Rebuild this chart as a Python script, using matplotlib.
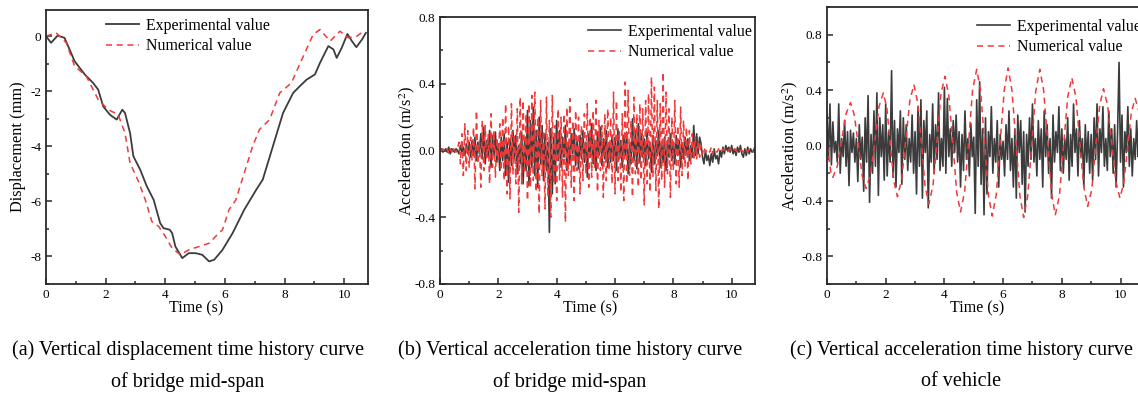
import numpy as np
import matplotlib.pyplot as plt
from matplotlib.ticker import MultipleLocator, FormatStrFormatter

plt.rcParams['font.family'] = ['Liberation Serif', 'DejaVu Serif']
plt.rcParams['axes.unicode_minus'] = False
plt.rcParams['mathtext.fontset'] = 'stix'

# (a) bridge mid-span displacement
disp_exp_t = [0.00, 0.17, 0.39, 0.62, 0.79, 0.96, 1.30, 1.58, 1.75, 1.92, 2.14, 2.37, 2.56, 2.65,
              2.82, 2.93, 3.16, 3.38, 3.61, 3.83, 3.94, 4.15, 4.23, 4.34, 4.57, 4.79, 5.02, 5.24,
              5.47, 5.64, 5.92, 6.26, 6.65, 7.05, 7.27, 7.61, 7.95, 8.29, 8.51, 8.74, 9.02, 9.19,
              9.47, 9.64, 9.75, 9.92, 10.11, 10.26, 10.41, 10.60, 10.73]
disp_exp = [0.00, -0.24, 0.02, -0.06, -0.48, -0.91, -1.39, -1.70, -1.94, -2.55, -2.85, -3.03, -2.67, -2.79,
            -3.52, -4.36, -4.85, -5.45, -5.94, -6.79, -6.97, -7.03, -7.15, -7.64, -8.06, -7.88, -7.88, -7.94,
            -8.18, -8.12, -7.76, -7.15, -6.30, -5.58, -5.21, -4.00, -2.79, -2.06, -1.82, -1.58, -1.39, -0.97,
            -0.36, -0.48, -0.79, -0.42, 0.08, -0.18, -0.40, -0.12, 0.12]
disp_num_t = [0.00, 0.34, 0.68, 0.96, 1.35, 1.75, 2.09, 2.42, 2.65, 2.82, 3.10, 3.33, 3.55, 3.78,
              4.00, 4.23, 4.51, 4.79, 5.13, 5.47, 5.69, 5.92, 6.14, 6.37, 6.65, 6.93, 7.16, 7.50,
              7.84, 8.23, 8.63, 8.96, 9.19, 9.53, 9.86, 10.14, 10.43, 10.65]
disp_num = [0.00, 0.12, -0.24, -1.09, -1.45, -2.30, -2.67, -2.85, -3.52, -4.61, -5.27, -5.94, -6.73, -6.91,
            -7.27, -7.70, -7.94, -7.76, -7.64, -7.52, -7.27, -7.03, -6.30, -5.94, -4.97, -4.00, -3.39, -3.03,
            -2.06, -1.70, -0.73, 0.06, 0.24, -0.18, 0.18, -0.06, 0.00, 0.18]

# (b) bridge mid-span acceleration, sampled every 0.05 s
bridge_dt = 0.05
bridge_exp = [
    0.00, 0.01, -0.01, 0.00, 0.01, -0.01, 0.02, -0.02, 0.01, 0.00, -0.01, 0.01, 0.00, -0.02, 0.03, -0.01, 0.02, -0.03, 0.04, -0.02,
    0.05, -0.04, 0.06, -0.03, 0.08, -0.06, 0.05, -0.02, 0.10, -0.05, 0.14, -0.08, 0.06, -0.04, 0.12, -0.10, 0.09, -0.03, 0.11, -0.07,
    0.04, -0.12, 0.08, -0.06, 0.10, -0.15, 0.05, -0.19, 0.07, -0.09, 0.12, -0.05, 0.09, -0.14, 0.03, -0.08, 0.11, -0.20, 0.06, -0.12,
    0.24, -0.21, 0.18, -0.10, 0.26, -0.15, 0.12, -0.22, 0.20, -0.08, 0.15, -0.18, 0.10, -0.12, 0.05, -0.49, 0.13, -0.26, 0.08, -0.20,
    0.18, -0.06, 0.12, -0.10, 0.08, -0.04, 0.15, -0.12, 0.05, -0.08, 0.10, -0.02, 0.13, -0.09, 0.06, -0.11, 0.09, -0.05, 0.12, -0.07,
    0.05, -0.16, 0.10, -0.04, 0.16, -0.08, 0.06, -0.12, 0.11, -0.03, 0.14, -0.09, 0.07, -0.05, 0.12, -0.10, 0.04, -0.07, 0.09, -0.06,
    0.08, -0.12, 0.13, -0.05, 0.06, -0.10, 0.09, -0.03, 0.11, -0.14, 0.05, -0.08, 0.19, -0.06, 0.12, -0.11, 0.16, -0.07, 0.10, -0.04,
    0.07, -0.09, 0.11, -0.05, 0.04, -0.13, 0.09, -0.08, 0.06, -0.03, 0.12, -0.10, 0.05, -0.07, 0.08, -0.12, 0.06, -0.04, 0.10, -0.06,
    0.05, -0.08, 0.09, -0.03, 0.06, -0.10, 0.04, -0.05, 0.08, -0.02, 0.07, -0.06, 0.03, -0.04, 0.15, -0.03, 0.10, -0.02, 0.08, 0.04,
    -0.04, -0.08, 0.00, -0.06, -0.03, -0.09, -0.02, -0.07, 0.01, -0.05, -0.03, -0.08, 0.00, -0.04, 0.02, -0.02, 0.03, 0.00, 0.02, -0.01,
    0.03, -0.02, 0.01, -0.03, 0.02, -0.01, 0.03, -0.02, -0.04, 0.01, -0.03, 0.02, -0.02, 0.01, -0.01, 0.00, 0.02]
bridge_num = [
    0.00, 0.00, 0.01, -0.01, 0.00, 0.01, -0.02, 0.01, -0.01, 0.02, 0.00, -0.01, 0.01, 0.05, -0.08, 0.10, -0.15, 0.16, -0.12, 0.12,
    -0.10, 0.08, -0.06, 0.14, -0.23, 0.24, -0.08, 0.06, -0.22, 0.18, -0.12, 0.15, -0.05, 0.10, -0.20, 0.22, -0.10, 0.12, -0.16, 0.08,
    -0.06, 0.16, -0.12, 0.20, -0.18, 0.28, -0.26, 0.15, -0.29, 0.28, -0.14, 0.10, -0.20, 0.25, -0.37, 0.32, -0.20, 0.30, -0.12, 0.22,
    -0.30, 0.28, -0.22, 0.33, -0.18, 0.35, -0.25, 0.20, -0.38, 0.30, -0.15, 0.12, -0.35, 0.32, -0.28, 0.18, -0.40, 0.33, -0.20, 0.15,
    -0.30, 0.25, -0.18, 0.20, -0.28, 0.22, -0.43, 0.26, -0.15, 0.31, -0.22, 0.18, -0.30, 0.24, -0.12, 0.20, -0.26, 0.15, -0.18, 0.22,
    -0.14, 0.28, -0.22, 0.20, -0.16, 0.24, -0.10, 0.30, -0.25, 0.18, -0.12, 0.15, -0.28, 0.22, -0.18, 0.25, -0.12, 0.20, -0.20, 0.35,
    -0.26, 0.30, -0.18, 0.12, -0.25, 0.22, -0.30, 0.41, -0.20, 0.36, -0.15, 0.18, -0.28, 0.32, -0.14, 0.22, -0.22, 0.28, -0.18, 0.25,
    -0.33, 0.30, -0.20, 0.34, -0.25, 0.44, -0.16, 0.38, -0.24, 0.30, -0.35, 0.28, -0.18, 0.47, -0.22, 0.35, -0.14, 0.25, -0.28, 0.20,
    -0.12, 0.30, -0.20, 0.15, -0.22, 0.26, -0.15, 0.18, -0.10, 0.14, -0.18, 0.12, -0.08, 0.10, -0.06, 0.08, -0.05, 0.06, -0.04, 0.03,
    -0.02, 0.02, -0.01, 0.01, 0.00, -0.01, 0.02, -0.02, 0.01, 0.00, -0.01, 0.01, 0.00, -0.01, 0.01, 0.00, 0.01, -0.01, 0.00, 0.01,
    0.00, -0.01, 0.01, 0.00, -0.01, 0.01, 0.00, 0.00, -0.01, 0.01, 0.00, -0.01, 0.01, 0.00, 0.00, -0.01, 0.00]

# (c) vehicle acceleration
veh_dt = 0.05
veh_exp = [
    0.22, -0.10, 0.30, -0.14, 0.17, -0.05, 0.03, -0.12, 0.30, -0.20, 0.05, -0.08, 0.18, -0.15, 0.10, -0.29, 0.11, -0.05, 0.09, -0.12,
    0.05, -0.26, 0.15, -0.10, 0.06, -0.33, 0.20, -0.12, 0.36, -0.41, 0.08, -0.20, 0.25, -0.15, 0.38, -0.36, 0.20, -0.08, 0.15, -0.25,
    0.30, -0.22, 0.10, -0.12, 0.54, -0.23, 0.18, -0.30, 0.12, -0.05, 0.25, -0.28, 0.20, -0.10, 0.15, -0.18, 0.05, -0.12, 0.22, -0.20,
    0.10, -0.35, 0.28, -0.15, 0.33, -0.38, 0.18, -0.05, 0.25, -0.45, 0.08, -0.12, 0.30, -0.20, 0.15, -0.10, 0.38, -0.18, 0.05, -0.15,
    0.42, -0.20, 0.34, -0.08, 0.12, -0.15, 0.18, -0.05, 0.22, -0.12, 0.10, -0.30, 0.08, -0.18, 0.25, -0.10, 0.05, -0.22, 0.16, -0.08,
    0.06, -0.49, 0.33, -0.15, 0.46, -0.28, 0.12, -0.50, 0.20, -0.35, 0.10, -0.08, 0.28, -0.20, 0.05, -0.12, 0.18, -0.30, 0.08, -0.10,
    0.03, -0.22, 0.15, -0.10, 0.25, -0.18, 0.05, -0.30, 0.12, -0.38, 0.22, -0.05, 0.18, -0.28, 0.10, -0.48, 0.08, -0.15, 0.20, -0.10,
    0.30, -0.12, 0.05, -0.22, 0.18, -0.10, 0.12, -0.30, 0.25, -0.08, 0.15, -0.20, 0.05, -0.38, 0.22, -0.12, 0.10, -0.05, 0.28, -0.18,
    0.12, -0.20, 0.05, -0.10, 0.20, -0.25, 0.08, -0.15, 0.30, -0.05, 0.12, -0.22, 0.18, -0.08, 0.05, -0.30, 0.15, -0.12, 0.10, -0.20,
    0.08, -0.25, 0.20, -0.10, 0.30, -0.22, 0.12, -0.05, 0.28, -0.15, 0.05, -0.18, 0.25, -0.08, 0.12, -0.20, 0.15, -0.30, 0.10, 0.60,
    -0.12, 0.22, -0.30, 0.10, -0.05, 0.28, -0.15, 0.12, -0.22, 0.05, -0.10, 0.18, -0.08, 0.15, -0.12, 0.05, -0.10]
veh_num_t = [0.00, 0.07, 0.13, 0.20, 0.35, 0.50, 0.65, 0.80, 0.93, 1.07, 1.20, 1.33, 1.48, 1.63, 1.77, 1.92,
             2.04, 2.16, 2.28, 2.40, 2.54, 2.68, 2.82, 2.96, 3.09, 3.22, 3.34, 3.47, 3.61, 3.75, 3.88, 4.02,
             4.15, 4.29, 4.42, 4.55, 4.69, 4.83, 4.96, 5.10, 5.23, 5.37, 5.50, 5.63, 5.77, 5.90, 6.04, 6.17,
             6.30, 6.44, 6.57, 6.70, 6.84, 6.98, 7.11, 7.25, 7.38, 7.52, 7.65, 7.78, 7.92, 8.06, 8.20, 8.34,
             8.48, 8.61, 8.75, 8.88, 9.02, 9.15, 9.29, 9.42, 9.56, 9.70, 9.84, 9.98, 10.11, 10.24, 10.37, 10.50,
             10.62, 10.75, 10.85]
veh_num = [0.00, -0.10, -0.19, -0.23, -0.15, 0.04, 0.23, 0.31, 0.22, 0.00, -0.22, -0.31, -0.21, 0.03, 0.28, 0.38,
           0.27, 0.00, -0.26, -0.37, -0.25, 0.03, 0.32, 0.44, 0.31, 0.01, -0.29, -0.42, -0.29, 0.04, 0.37, 0.50,
           0.36, 0.01, -0.34, -0.48, -0.33, 0.04, 0.40, 0.55, 0.40, 0.02, -0.36, -0.51, -0.35, 0.03, 0.40, 0.56,
           0.40, 0.02, -0.36, -0.52, -0.36, 0.02, 0.39, 0.55, 0.40, 0.03, -0.35, -0.50, -0.36, 0.00, 0.35, 0.49,
           0.35, 0.03, -0.30, -0.44, -0.32, -0.02, 0.29, 0.41, 0.29, 0.02, -0.26, -0.38, -0.27, -0.02, 0.24, 0.34,
           0.25, 0.02, -0.10]

captions = [("(a) Vertical displacement time history curve", "of bridge mid-span"),
            ("(b) Vertical acceleration time history curve", "of bridge mid-span"),
            ("(c) Vertical acceleration time history curve", "of vehicle")]

W, H = 1138, 397
fig = plt.figure(figsize=(W / 100, H / 100), dpi=100)

def px_axes(l, t, r, b):
    return fig.add_axes([l / W, 1 - b / H, (r - l) / W, (b - t) / H])

exp_col = '#3c3c3c'
num_col = '#f03a3a'

def style(ax):
    for s in ax.spines.values():
        s.set_linewidth(1.3)
        s.set_color('#2a2a2a')
    ax.tick_params(which='both', direction='in', top=False, right=False,
                   labelsize=9.5, width=1.1, color='#2a2a2a')
    ax.tick_params(which='major', length=4)
    ax.tick_params(which='minor', length=2.5)
    ax.xaxis.set_major_locator(MultipleLocator(2))
    ax.xaxis.set_minor_locator(MultipleLocator(1))
    ax.set_xlim(0, 10.8)

def legend(ax, x, y):
    ax.legend(loc='upper left', bbox_to_anchor=(x / W, 1 - y / H), bbox_transform=fig.transFigure,
              frameon=False, fontsize=11.4, handlelength=2.1, handletextpad=0.45,
              labelspacing=0.28, borderpad=0, borderaxespad=0)

# panel a
ax1 = px_axes(46, 10, 368, 284)
ax1.plot(disp_exp_t, disp_exp, color=exp_col, lw=1.3, label='Experimental value')
ax1.plot(disp_num_t, disp_num, color=num_col, lw=1.1, ls=(0, (4, 3)), label='Numerical value')
style(ax1)
ax1.set_ylim(-9, 0.95)
ax1.yaxis.set_major_locator(MultipleLocator(2))
ax1.yaxis.set_minor_locator(MultipleLocator(1))
ax1.set_ylabel('Displacement (mm)', fontsize=11.8)
ax1.yaxis.set_label_coords(-0.062, 0.5)
legend(ax1, 106, 18)

# panel b
tb = np.arange(len(bridge_exp)) * bridge_dt
ax2 = px_axes(440, 17, 755, 284)
ax2.plot(tb, bridge_exp, color=exp_col, lw=1.2, label='Experimental value')
ax2.plot(tb, bridge_num, color=num_col, lw=1.1, ls=(0, (4, 3)), label='Numerical value')
style(ax2)
ax2.set_ylim(-0.8, 0.8)
ax2.yaxis.set_major_locator(MultipleLocator(0.4))
ax2.yaxis.set_minor_locator(MultipleLocator(0.2))
ax2.yaxis.set_major_formatter(FormatStrFormatter('%.1f'))
ax2.set_ylabel('Acceleration (m/s$^2$)', fontsize=11.8)
ax2.yaxis.set_label_coords(-0.073, 0.5)
legend(ax2, 588, 24)

# panel c
tv = np.arange(len(veh_exp)) * veh_dt
ax3 = px_axes(827, 7, 1144, 284)
ax3.plot(tv, veh_exp, color=exp_col, lw=1.2, label='Experimental value')
ax3.plot(veh_num_t, veh_num, color=num_col, lw=1.1, ls=(0, (4, 3)), label='Numerical value')
style(ax3)
ax3.set_ylim(-1.0, 1.0)
ax3.yaxis.set_major_locator(MultipleLocator(0.4))
ax3.yaxis.set_minor_locator(MultipleLocator(0.2))
ax3.yaxis.set_major_formatter(FormatStrFormatter('%.1f'))
ax3.set_ylabel('Acceleration (m/s$^2$)', fontsize=11.8)
ax3.yaxis.set_label_coords(-0.086, 0.5)
legend(ax3, 977, 19)

xlab_pos = [0.466, 0.476, 0.473]
for ax, xp in zip([ax1, ax2, ax3], xlab_pos):
    ax.set_xlabel('Time (s)', fontsize=11.5)
    ax.xaxis.set_label_coords(xp, -0.06)
    ax.xaxis.label.set_va('top')

cap_x = [188, 570, 961]
for (l1, l2), cx in zip(captions, cap_x):
    fig.text(cx / W, 1 - 350 / H, l1, ha='center', va='center', fontsize=14.5)
    fig.text(cx / W, 1 - 382 / H, l2, ha='center', va='center', fontsize=14.5)

fig.savefig('out.png', dpi=100)
